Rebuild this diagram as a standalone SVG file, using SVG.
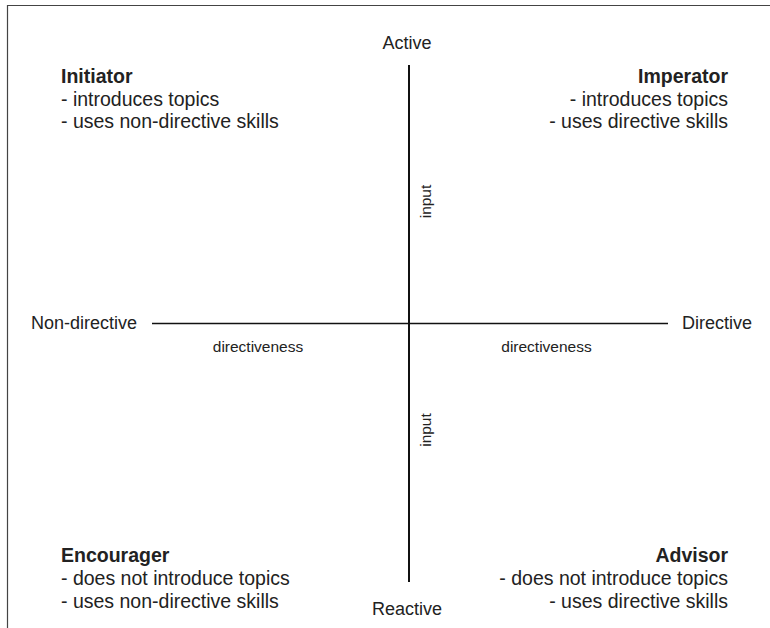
<svg xmlns="http://www.w3.org/2000/svg" width="770" height="628" viewBox="0 0 770 628">
<style>
text{font-family:"Liberation Sans",Arial,sans-serif;fill:#222}
.ax{font-size:18px}
.sm{font-size:15.5px}
.q{font-size:19.5px}
.h{font-weight:bold}
.r{text-anchor:end}
.m{text-anchor:middle}
.axis{stroke:#111;fill:none}
</style>
<rect width="770" height="628" fill="#fff"/>
<path d="M7.5,628 V5.5 H770" fill="none" stroke="#444" stroke-width="1.2"/>
<g id="connectors">
<line class="axis" x1="409" y1="65" x2="409" y2="582" stroke-width="2"/>
<line class="axis" x1="152" y1="323.5" x2="668" y2="323.5" stroke-width="1.6"/>
</g>
<g id="axis-labels">
<text class="ax m" x="407" y="49">Active</text>
<text class="ax m" x="407" y="615">Reactive</text>
<text class="ax r" x="137" y="329">Non-directive</text>
<text class="ax" x="682" y="329">Directive</text>
<text class="sm m" x="258" y="351.5">directiveness</text>
<text class="sm m" x="546.5" y="351.5">directiveness</text>
<text class="sm m" transform="translate(431,201.5) rotate(-90)">input</text>
<text class="sm m" transform="translate(431,430) rotate(-90)">input</text>
</g>
<g id="initiator">
<text class="q h" x="61" y="83">Initiator</text>
<text class="q" x="61" y="106">- introduces topics</text>
<text class="q" x="61" y="128">- uses non-directive skills</text>
</g>
<g id="imperator">
<text class="q h r" x="728" y="83">Imperator</text>
<text class="q r" x="728" y="106">- introduces topics</text>
<text class="q r" x="728" y="128">- uses directive skills</text>
</g>
<g id="encourager">
<text class="q h" x="61" y="562">Encourager</text>
<text class="q" x="61" y="585">- does not introduce topics</text>
<text class="q" x="61" y="608">- uses non-directive skills</text>
</g>
<g id="advisor">
<text class="q h r" x="728" y="562">Advisor</text>
<text class="q r" x="728" y="585">- does not introduce topics</text>
<text class="q r" x="728" y="608">- uses directive skills</text>
</g>
</svg>
